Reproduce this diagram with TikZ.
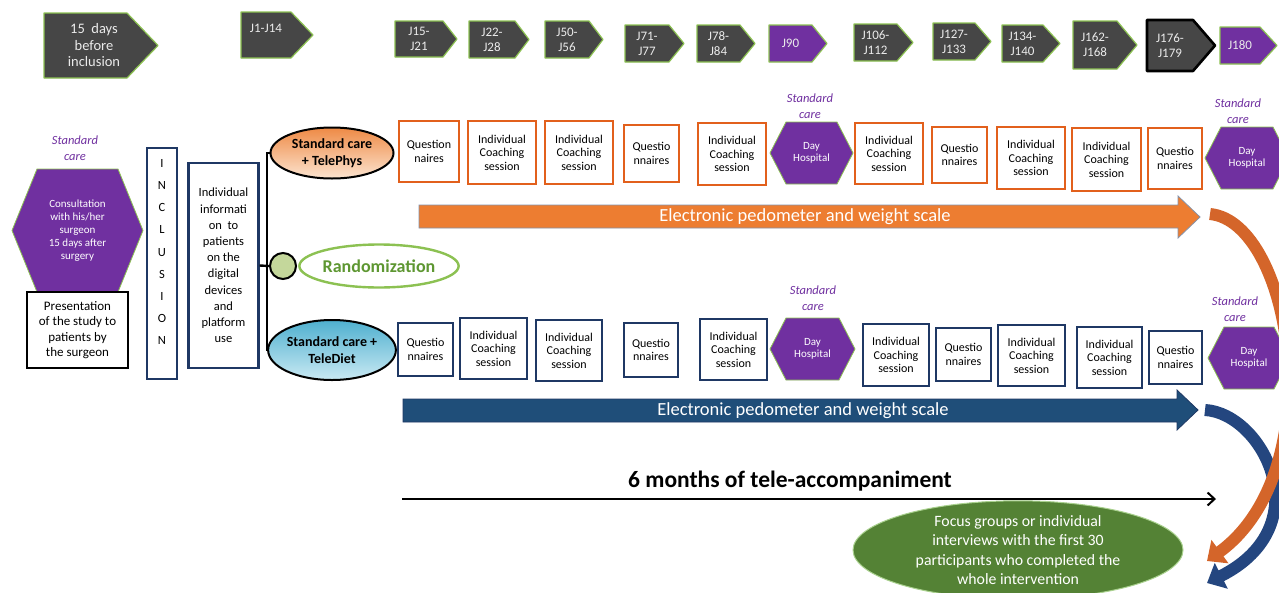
\documentclass[tikz,border=0pt]{standalone}
\usepackage{fontspec}
\setmainfont{Carlito}
\usetikzlibrary{shapes.geometric,arrows.meta}
\definecolor{chevgray}{HTML}{464646}
\definecolor{chevedge}{HTML}{8CC152}
\definecolor{purp}{HTML}{7030A0}
\definecolor{orng}{HTML}{E2601C}
\definecolor{navy}{HTML}{1F3864}
\definecolor{barorange}{HTML}{ED7D31}
\definecolor{barblue}{HTML}{1F4E79}
\definecolor{grn}{HTML}{548235}
\definecolor{grnedge}{HTML}{A9D18E}
\definecolor{randgreen}{HTML}{8CC152}
\definecolor{randtext}{HTML}{5E9732}
\definecolor{curveorange}{HTML}{D4652A}
\definecolor{curveblue}{HTML}{24467F}
\definecolor{circgreen}{HTML}{C4D79B}
\definecolor{ortop}{HTML}{EE8A45}
\definecolor{orbot}{HTML}{FCE4D0}
\definecolor{bltop}{HTML}{4FB0CF}
\definecolor{blbot}{HTML}{C9E9F3}
\newcommand\fsz[2]{\fontsize{#1}{#2}\selectfont}
\tikzset{
 chevshape/.style={fill=chevgray, draw=chevedge, line width=1.2pt, line join=round},
 chevtext/.style={text=white!92!black, align=center, font=\fsz{13}{15}, inner sep=0pt},
 hexshape/.style={fill=purp, draw=chevedge, line width=0.8pt},
 hextext/.style={text=white, align=center, font=\fsz{11}{12.7}, inner sep=0pt},
 obox/.style={draw=orng, line width=2.6pt, fill=white, align=center, font=\fsz{12}{13.4}, inner sep=0pt},
 bbox/.style={draw=navy, line width=2.4pt, fill=white, align=center, font=\fsz{12}{13.4}, inner sep=0pt},
 stdcare/.style={text=purp, align=center, font=\itshape\fsz{12.5}{16}, inner sep=0pt},
 bartext/.style={text=white, font=\fsz{18.5}{20}, inner sep=0pt},
 connector/.style={draw=black, line width=2.4pt},
}
\newcommand\chev[8][]{%
 \path[chevshape,#1] (#3,#6) -- (#4,#6) -- (#5,{(#6+#7)/2}) -- (#4,#7) -- (#3,#7) -- cycle;
 \node[chevtext] (#2) at ({(#3+#4)/2},{(#6+#7)/2}) {#8};}
\newcommand\hexa[8][]{%
 \path[hexshape] (#3,{(#5+#6)/2}) -- ({#3+#7},#5) -- ({#4-#7},#5) -- (#4,{(#5+#6)/2}) -- ({#4-#7},#6) -- ({#3+#7},#6) -- cycle;
 \node[hextext,#1] (#2) at ({(#3+#4)/2},{(#5+#6)/2}) {#8};}
\begin{document}
\begin{tikzpicture}[x=1pt,y=-1pt]
\useasboundingbox (0,0) rectangle (1279,592);
\fill[white] (0,0) rectangle (1279,592);

% ---------- top time line ----------
\path[chevshape] (44,13) -- (127,13) -- (158,45.5) -- (127,78) -- (44,78) -- cycle;
\node[chevtext, font=\fsz{14.5}{16.5}] (before) at (94,45.5) {15 \ days\\before\\inclusion};
\path[chevshape] (241,12) -- (291,12) -- (313,35) -- (291,58) -- (241,58) -- cycle;
\node[chevtext] (j1) at (266,28) {J1-J14};
\chev{j15}{395}{443}{457}{21}{57}{J15-\\J21}
\chev{j22}{469}{515}{529}{21}{58}{J22-\\J28}
\chev{j50}{545}{589}{603}{21}{58}{J50-\\J56}
\chev{j71}{625}{669}{684}{25}{62}{J71-\\J77}
\chev{j78}{697}{740}{755}{25}{62}{J78-\\J84}
\chev[fill=purp]{j90}{769}{812}{827}{25}{62}{J90}
\chev{j106}{854}{897}{913}{24}{61}{J106-\\J112}
\chev{j127}{933}{975}{991}{23}{60}{J127-\\J133}
\chev{j134}{1002}{1043}{1060}{25}{62}{J134-\\J140}
\chev{j162}{1073}{1117}{1137}{21}{69}{J162-\\J168}
\chev[draw=black, line width=2.6pt]{j176}{1147}{1193}{1215}{20}{71}{J176-\\J179}
\chev[fill=purp]{j180}{1220}{1260}{1277}{27}{64}{J180}

% ---------- curved arrows on the right ----------
\coordinate (bc0) at (1205,410);
\coordinate (bc1) at (1207,583);
\coordinate (oc0) at (1210,214);
\coordinate (oc1) at (1207,561);
\draw[line width=12pt, curveblue, -{Triangle[length=16pt,width=28pt]}]
  (bc0) .. controls (1262,413) and (1322,525) .. (bc1);
\draw[line width=12pt, curveorange, -{Triangle[length=16pt,width=28pt]}]
  (oc0) .. controls (1292,222) and (1332,470) .. (oc1);

% ---------- left part ----------
\node[stdcare] (sc0) at (75,148.5) {Standard\\care};
\hexa[font=\fsz{11}{13}]{consult}{12}{143}{169}{292}{25}{Consultation\\with his/her\\surgeon\\15 days after\\surgery}
\node[draw=black, line width=1.3pt, fill=white, minimum width=101pt, minimum height=76pt,
  align=center, font=\fsz{13}{15.5}, inner sep=0pt] (pres) at (77.5,330)
  {Presentation\\of the study to\\patients by\\the surgeon};
\node[draw=navy, line width=2.8pt, fill=white, minimum width=30pt, minimum height=231pt, inner sep=0pt] (incl) at (162,263.5) {};
\node[align=center, font=\fsz{12.5}{22.2}, inner sep=0pt] (incltxt) at (162,252) {I\\N\\C\\L\\U\\S\\I\\O\\N};
\node[draw=navy, line width=2.4pt, fill=white, minimum width=70pt, minimum height=205pt,
  align=center, font=\fsz{12.5}{16.2}, inner sep=0pt] (info) at (223.5,265.5)
  {Individual\\informati\\on \ to\\patients\\on the\\digital\\devices\\and\\platform\\use};

% ---------- randomization ----------
\node[ellipse, draw=black, line width=2pt, top color=ortop, bottom color=orbot,
  minimum width=123pt, minimum height=51pt, inner sep=0pt, align=center,
  font=\bfseries\fsz{14}{16.5}] (tphys) at (332,153) {Standard care\\+ TelePhys};
\node[ellipse, draw=black, line width=2pt, top color=bltop, bottom color=blbot,
  minimum width=121pt, minimum height=60pt, inner sep=0pt, align=center,
  font=\bfseries\fsz{14}{16.5}] (tdiet) at (332,350) {Standard care +\\TeleDiet};
\node[circle, draw=black, line width=2pt, fill=circgreen, minimum size=26pt, inner sep=0pt] (circ) at (283,266) {};
\node[ellipse, draw=randgreen, line width=2.4pt, fill=white, minimum width=158pt, minimum height=43pt,
  inner sep=0pt, text=randtext, font=\bfseries\fsz{18}{20}] (rand) at (379,266) {Randomization};
\coordinate (jn) at (267,266);
\draw[connector] (info.east) -- (circ.west);
\draw[connector] (tphys.west) -| (jn) |- (tdiet.west);

% ---------- TelePhys row ----------
\node[obox, minimum width=60pt, minimum height=61pt] (o1) at (429,151.5) {Question\\naires};
\node[obox, minimum width=68pt, minimum height=63pt] (o2) at (502,152.5) {Individual\\Coaching\\session};
\node[obox, minimum width=68pt, minimum height=63pt] (o3) at (579,152.5) {Individual\\Coaching\\session};
\node[obox, minimum width=55pt, minimum height=57pt] (o4) at (651.5,153.5) {Questio\\nnaires};
\node[obox, minimum width=68pt, minimum height=62pt] (o5) at (732,154) {Individual\\Coaching\\session};
\node[stdcare] (sc1) at (810,106) {Standard\\care};
\hexa{oh1}{770}{853}{122}{184}{16}{Day\\Hospital}
\node[obox, minimum width=68pt, minimum height=61pt] (o7) at (889,153.5) {Individual\\Coaching\\session};
\node[obox, minimum width=55pt, minimum height=56pt] (o8) at (959.5,155) {Questio\\nnaires};
\node[obox, minimum width=68pt, minimum height=62pt] (o9) at (1031,158) {Individual\\Coaching\\session};
\node[obox, minimum width=69pt, minimum height=63pt] (o10) at (1106.5,159.5) {Individual\\Coaching\\session};
\node[obox, minimum width=54pt, minimum height=61pt] (o11) at (1175,158.5) {Questio\\nnaires};
\node[stdcare] (sc2) at (1238,111) {Standard\\care};
\hexa{oh2}{1205}{1289}{127}{189}{16}{Day\\Hospital}

\path[fill=barorange, draw=navy!55, line width=0.8pt]
  (419,205) -- (1178,205) -- (1178,196) -- (1200,217) -- (1178,238) -- (1178,228) -- (419,228) -- cycle;
\node[bartext] (obar) at (805,217) {Electronic pedometer and weight scale};

% ---------- TeleDiet row ----------
\node[bbox, minimum width=55pt, minimum height=53pt] (b1) at (425.5,349.5) {Questio\\nnaires};
\node[bbox, minimum width=67pt, minimum height=61pt] (b2) at (493.5,348.5) {Individual\\Coaching\\session};
\node[bbox, minimum width=66pt, minimum height=61pt] (b3) at (569,350.5) {Individual\\Coaching\\session};
\node[bbox, minimum width=54pt, minimum height=54pt] (b4) at (651,350) {Questio\\nnaires};
\node[bbox, minimum width=67pt, minimum height=61pt] (b5) at (733.5,349.5) {Individual\\Coaching\\session};
\node[stdcare] (sc3) at (813,298) {Standard\\care};
\hexa{bh1}{770}{855}{318}{380}{16}{Day\\Hospital}
\node[bbox, minimum width=66pt, minimum height=62pt] (b7) at (896,355) {Individual\\Coaching\\session};
\node[bbox, minimum width=55pt, minimum height=53pt] (b8) at (963.5,354.5) {Questio\\nnaires};
\node[bbox, minimum width=67pt, minimum height=61pt] (b9) at (1031.5,355.5) {Individual\\Coaching\\session};
\node[bbox, minimum width=65pt, minimum height=61pt] (b10) at (1109.5,357.5) {Individual\\Coaching\\session};
\node[bbox, minimum width=53pt, minimum height=53pt] (b11) at (1175.5,357.5) {Questio\\nnaires};
\node[stdcare] (sc4) at (1235,309.5) {Standard\\care};
\hexa{bh2}{1208}{1290}{327}{389}{16}{Day\\Hospital}

\path[fill=barblue, draw=navy, line width=0.8pt]
  (403,399) -- (1177,399) -- (1177,390) -- (1198,410) -- (1177,430) -- (1177,422) -- (403,422) -- cycle;
\node[bartext] (bbar) at (803,410.5) {Electronic pedometer and weight scale};

% ---------- duration ----------
\node[font=\bfseries\fsz{23.5}{26}, inner sep=0pt] (sixm) at (790,481) {6 months of tele-accompaniment};
\coordinate (m0) at (402,499);
\coordinate (m1) at (1216,499);
\draw[line width=2pt, -{Straight Barb[length=7pt,width=13pt]}] (m0) -- (m1);

% ---------- focus groups ----------
\node[ellipse, fill=grn, draw=grnedge, line width=1pt, minimum width=330pt, minimum height=86pt,
  inner sep=0pt, text=white, align=center, font=\fsz{15.8}{19.5}] (focus) at (1018,550)
  {Focus groups or individual\\interviews with the first 30\\participants who completed the\\whole intervention};
\end{tikzpicture}
\end{document}
